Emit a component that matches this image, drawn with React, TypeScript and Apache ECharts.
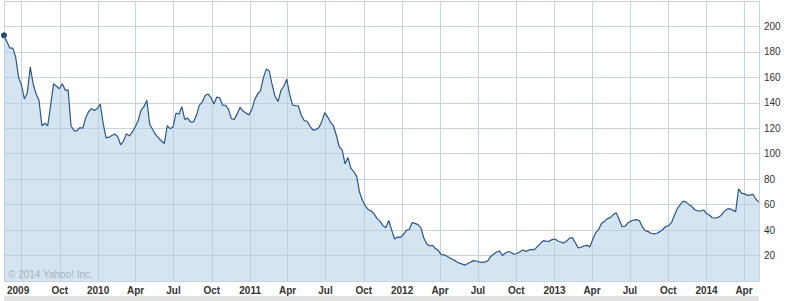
import React, { useEffect, useRef } from 'react';
import * as echarts from 'echarts';

// Weekly closes, first week = 2009-05-20, one value every 7 days
const START_YEAR = 2009;
const START_MONTH = 4; // May (0-based)
const START_DAY = 20;
const weeklyCloses: number[] = [
  193, 188, 183, 183, 176, 160, 154, 143, 148, 168,
  155, 147, 142, 122, 124, 122, 138, 155, 153, 151,
  155, 150, 150, 122, 118, 118, 120.5, 120, 128, 133,
  135.5, 134, 135.5, 139, 124, 112.5, 113, 114.3, 115.5, 113.6,
  107, 110, 115.8, 114, 117, 121, 126, 134, 137, 142,
  123, 119, 115, 112.5, 110, 108, 122, 119.7, 121, 132,
  131, 137, 127, 128, 125, 125, 130, 138, 140.5, 145.7,
  147, 144, 139, 144.5, 144, 138, 138, 135, 127.5, 127,
  131.5, 136.5, 133.5, 132, 130.5, 134.5, 142.5, 147, 149.5, 160,
  166.5, 165, 154, 145, 141, 149.7, 153, 158.5, 146.5, 138.3,
  137.8, 137.5, 130, 126, 125.5, 121.5, 118.5, 119, 120.5, 125,
  132.3, 129, 124.8, 122, 114.5, 105.5, 103, 92, 97, 88.5,
  86, 82, 69.5, 63.3, 58.8, 56, 55, 52.5, 49, 46.8,
  43.5, 42, 47.5, 40, 33, 34.5, 34.3, 36.5, 39.8, 40.5,
  45.8, 45.3, 44.3, 41.9, 34, 29.2, 27.5, 28, 25.5, 23.9,
  20.7, 20.5, 19.5, 18, 16.9, 15.6, 14.2, 13.5, 12.5, 13.6,
  14.8, 16, 15.7, 15, 14.7, 14.8, 16, 19.3, 21.2, 22.8,
  23.5, 20, 22, 23.2, 22.4, 21, 21.6, 23, 24.3, 23.3,
  24.2, 24.8, 24.6, 27.2, 29.6, 31.6, 31.3, 31.2, 32.5, 33,
  31.4, 30.6, 29.8, 31.4, 33.5, 34.1, 30, 26, 26.5, 27.7,
  28, 26.8, 33, 38, 40.5, 45.3, 47, 49, 49.8, 52.2,
  53.6, 48.5, 42.6, 43, 45.5, 47, 47.9, 48.2, 47.3, 42.5,
  39.6, 38.8, 37.5, 37, 37.5, 38.8, 40.5, 42.8, 43.5, 46,
  51.7, 57, 60, 62.8, 62, 60, 58.5, 56, 55, 55,
  55.8, 53, 51.9, 49.7, 49.5, 50, 51.5, 54.5, 56.5, 56.8,
  55.7, 54.5, 72.5, 69.1, 68.5, 67.3, 67.6, 68, 64, 62,
];

const quarterMonthNames: Record<number, string> = { 4: 'Apr', 7: 'Jul', 10: 'Oct' };
const firstYearLabel = '2009';
const copyrightText = '\u00A9 2014 Yahoo! Inc.';
const yMin = 0;
const yMax = 220;
const yStep = 20;

const DAY_MS = 86400000;
const startMs = Date.UTC(START_YEAR, START_MONTH, START_DAY);
const totalDays = (weeklyCloses.length - 1) * 7 + 1;
const days: Date[] = Array.from({ length: totalDays }, (_, d) => new Date(startMs + d * DAY_MS));
const categories: string[] = days.map((dt) => dt.toISOString().slice(0, 10));
const lineData: (number | null)[] = categories.map((_, d) => (d % 7 === 0 ? weeklyCloses[d / 7] : null));

const isQuarterStart = (dt: Date) => dt.getUTCDate() === 1 && dt.getUTCMonth() % 3 === 0;

const FONT = '"Liberation Sans", Arial, Helvetica, sans-serif';
const GRID_COLOR = '#c9d3db';

export default function App() {
  const ref = useRef<HTMLDivElement>(null);

  useEffect(() => {
    document.body.style.margin = '0';
    if (!ref.current) return;
    const chart = echarts.init(ref.current, undefined, { renderer: 'svg' });
    chart.setOption({
      animation: false,
      backgroundColor: '#ffffff',
      grid: { left: 4, right: 28, top: 1, bottom: 20 },
      xAxis: {
        type: 'category',
        data: categories,
        boundaryGap: false,
        axisLine: { show: false },
        axisTick: { show: false },
        axisLabel: {
          interval: (idx: number) => {
            const dt = days[idx];
            if (!isQuarterStart(dt)) return false;
            if (dt.getUTCFullYear() === START_YEAR && dt.getUTCMonth() === 6) return false;
            return true;
          },
          formatter: (val: string) => {
            const m = parseInt(val.slice(5, 7), 10);
            if (m === 1) return val.slice(0, 4);
            return quarterMonthNames[m] || '';
          },
          color: '#333333',
          fontFamily: FONT,
          fontSize: 10,
          fontWeight: 'bold',
          margin: 4,
        },
        splitLine: {
          show: true,
          interval: (idx: number) => idx === 0 || idx === totalDays - 1 || isQuarterStart(days[idx]),
          lineStyle: { color: GRID_COLOR, width: 1 },
        },
      },
      yAxis: {
        type: 'value',
        position: 'right',
        min: yMin,
        max: yMax,
        interval: yStep,
        axisLine: { show: true, lineStyle: { color: GRID_COLOR } },
        axisTick: { show: false },
        axisLabel: {
          margin: 5,
          color: '#333333',
          fontFamily: FONT,
          fontSize: 10,
          formatter: (v: number) => (v === yMin || v === yMax ? '' : String(v)),
        },
        splitLine: { show: true, lineStyle: { color: GRID_COLOR, width: 1 } },
      },
      series: [
        {
          type: 'line',
          data: lineData,
          connectNulls: true,
          showSymbol: false,
          symbol: 'none',
          silent: true,
          lineStyle: { color: '#2b5686', width: 1.2 },
          areaStyle: { color: 'rgba(176,206,229,0.55)', opacity: 1 },
        },
        {
          type: 'scatter',
          data: [[categories[0], weeklyCloses[0]]],
          symbolSize: 6,
          silent: true,
          itemStyle: { color: '#1f4775', opacity: 1 },
        },
      ],
      graphic: [
        {
          type: 'rect',
          shape: { x: 4, y: 296, width: 755, height: 5 },
          style: { fill: '#e2e2e2' },
          silent: true,
        },
        {
          type: 'text',
          x: 7,
          y: 290,
          style: {
            text: firstYearLabel,
            fill: '#333333',
            font: 'bold 10px ' + FONT,
            align: 'left',
            verticalAlign: 'middle',
          },
          silent: true,
        },
        {
          type: 'text',
          x: 8,
          y: 274,
          z: 100,
          style: {
            text: copyrightText,
            fill: '#a7b2bb',
            font: '10px ' + FONT,
            align: 'left',
            verticalAlign: 'middle',
          },
          silent: true,
        },
      ],
    });
    return () => chart.dispose();
  }, []);

  return <div ref={ref} style={{ width: 787, height: 301 }} />;
}
